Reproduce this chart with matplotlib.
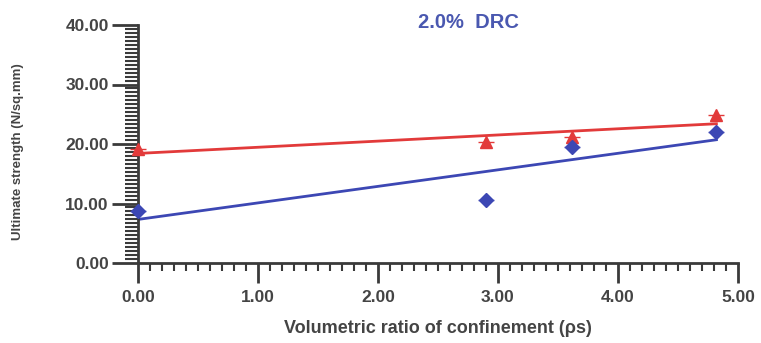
import numpy as np
import matplotlib
matplotlib.use("Agg")
import matplotlib.pyplot as plt
from matplotlib.ticker import FixedLocator, FormatStrFormatter

# confinement ratio (rho_s) and ultimate strength for the two series
rho_s = [0.00, 2.90, 3.62, 4.82]
strength_red = [19.1, 20.3, 21.2, 24.8]
strength_blue = [8.7, 10.6, 19.5, 22.0]

x_ticks = [0, 1, 2, 3, 4, 5]
y_ticks = [0, 10, 20, 30, 40]

red = '#e23a3a'
blue = '#3c47b4'
axis_col = '#3a3a3a'

plt.rcParams['font.family'] = ['Liberation Sans', 'DejaVu Sans']

fig = plt.figure(figsize=(7.61, 3.43), dpi=100)
ax = fig.add_axes([138/761, 1 - 263/343, 600/761, 238/343])

# least-squares trend lines over the measured range
xs = np.array([min(rho_s), max(rho_s)])
for ys, col in [(strength_red, red), (strength_blue, blue)]:
    k, b = np.polyfit(rho_s, ys, 1)
    ax.plot(xs, k*xs + b, color=col, lw=2.0, zorder=2)

ax.plot(rho_s, strength_red, '^', color=red, ms=8, zorder=3, clip_on=False)
ax.plot(rho_s, strength_red, '_', color=red, ms=12, mew=1, zorder=3, clip_on=False)
ax.plot(rho_s, strength_blue, 'D', color=blue, ms=7, zorder=3, clip_on=False)
ax.plot(rho_s, strength_blue, '_', color=blue, ms=12, mew=1, zorder=3, clip_on=False)

ax.set_xlim(0, 5)
ax.set_ylim(0, 40)
for s in ['top', 'right']:
    ax.spines[s].set_visible(False)
for s in ['left', 'bottom']:
    ax.spines[s].set_color(axis_col)
    ax.spines[s].set_linewidth(2)

ax.xaxis.set_major_locator(FixedLocator(x_ticks))
ax.yaxis.set_major_locator(FixedLocator(y_ticks))
ax.xaxis.set_minor_locator(FixedLocator(np.linspace(0, 5, 51)))
ax.yaxis.set_minor_locator(FixedLocator(np.linspace(0, 40, 61)))
ax.xaxis.set_major_formatter(FormatStrFormatter('%.2f'))
ax.yaxis.set_major_formatter(FormatStrFormatter('%.2f'))

ax.tick_params(axis='y', which='major', direction='out', length=19, width=2,
               color=axis_col, labelsize=12.5, labelcolor='#444444', pad=2)
ax.tick_params(axis='y', which='minor', direction='out', length=9.5, width=1.5,
               color=axis_col)
ax.tick_params(axis='x', which='major', direction='out', length=14.5, width=2,
               color=axis_col, labelsize=12.5, labelcolor='#444444', pad=5)
ax.tick_params(axis='x', which='minor', direction='out', length=5.5, width=1.5,
               color=axis_col)
for lab in ax.get_xticklabels() + ax.get_yticklabels():
    lab.set_fontweight('bold')

ax.set_xlabel('Volumetric ratio of confinement (ρs)', fontsize=13,
              fontweight='bold', color='#444444')
ax.xaxis.set_label_coords(0.5, -0.24)
ax.set_ylabel('Ultimate strength (N/sq.mm)', fontsize=9.5, fontweight='bold',
              color='#444444')
ax.yaxis.set_label_coords(-0.19, 0.466)
ax.text(0.55, 1.01, '2.0%  DRC', transform=ax.transAxes, ha='center', va='center',
        fontsize=14.5, fontweight='bold', color='#4a58b0')

fig.savefig('out.png', dpi=100, facecolor='white')
